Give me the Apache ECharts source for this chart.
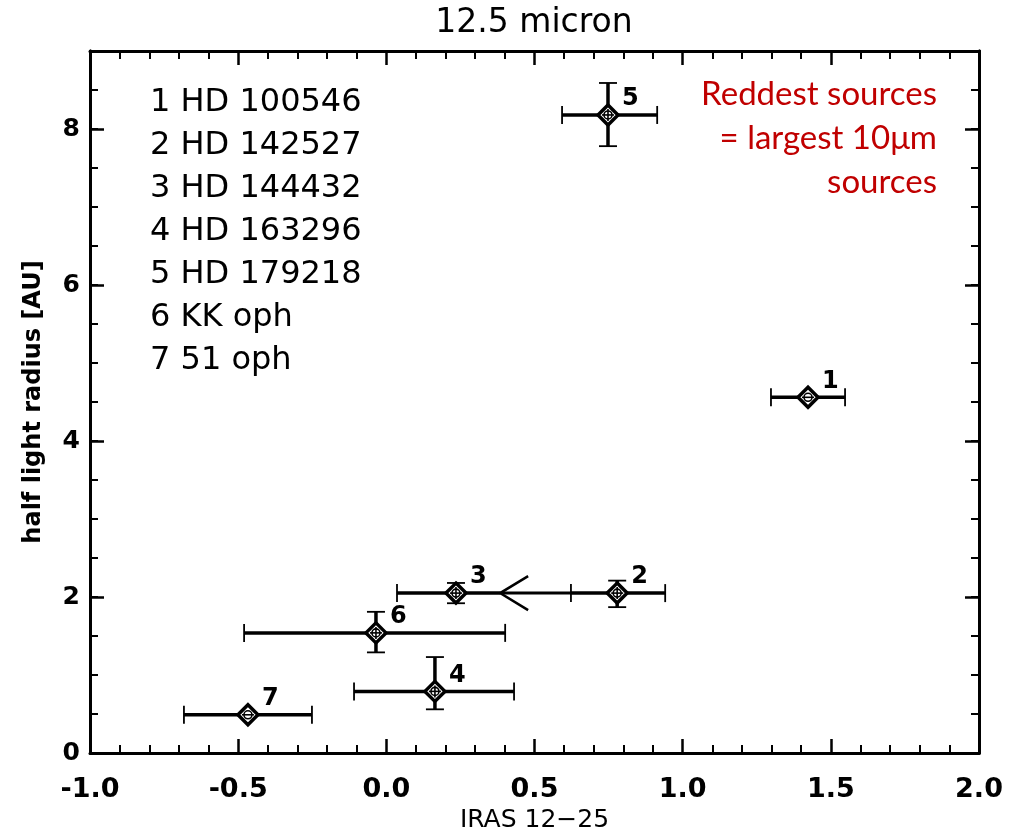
<!DOCTYPE html>
<html><head><meta charset="utf-8">
<script src="https://cdn.jsdelivr.net/npm/echarts@6/dist/echarts.min.js"></script>
<style>html,body{margin:0;padding:0;background:#fff}#c{width:1017px;height:831px}</style>
</head><body><div id="c"></div>
<script>
// ---- data ----
const sourceIds   = ['1','2','3','4','5','6','7'];
const sourceNames = ['HD 100546','HD 142527','HD 144432','HD 163296','HD 179218','KK oph','51 oph'];
const xVals  = [1.423, 0.779, 0.235, 0.164, 0.748, -0.035, -0.467];
const yVals  = [4.56, 2.05, 2.05, 0.79, 8.18, 1.54, 0.49];
const xLow   = [1.298, 0.623, 0.036, -0.109, 0.593, -0.480, -0.683];
const xHigh  = [1.548, 0.941, 0.384, 0.431, 0.914, 0.401, -0.251];
const yLow   = [null, 1.87, 1.92, 0.56, 7.78, 1.29, null];
const yHigh  = [null, 2.21, 2.18, 1.23, 8.59, 1.81, null];
// limit arrow for source 3 (tip x, tip y, line end x)
const limitTipX = [0.384];
const limitY    = [2.05];
const limitEndX = [0.623];
const xTickLabels = ['-1.0','-0.5','0.0','0.5','1.0','1.5','2.0'];
const yTickLabels = ['0','2','4','6','8'];
const titleText = '12.5 micron';
const xName = 'IRAS 12\u221225';
const yName = 'half light radius [AU]';
const noteLines = ['Reddest sources', '= largest 10\u03bcm', 'sources'];

const chart = echarts.init(document.getElementById('c'), null, {renderer:'canvas'});
const FONT = 'DejaVu Sans';

function xAx(pos, withLabels){
  return {
    type:'value', min:-1, max:2, interval:0.5, position:pos, gridIndex:0,
    axisLine:{show:true, onZero:false, lineStyle:{color:'#000', width:3}},
    axisTick:{show:true, inside:true, length:14, lineStyle:{color:'#000', width:2.5}},
    minorTick:{show:true, splitNumber:5, length:8, lineStyle:{color:'#000', width:2}},
    splitLine:{show:false}, minorSplitLine:{show:false},
    axisLabel: withLabels ? {show:true, margin:23, color:'#000', fontFamily:FONT, fontWeight:'bold', fontSize:27,
      formatter:(v,i)=> xTickLabels[i] ?? ''} : {show:false},
    name: withLabels ? xName : '', nameLocation:'middle', nameGap:48,
    nameTextStyle:{color:'#000', fontFamily:FONT, fontSize:25}
  };
}
function yAx(pos, interval, tickLen, withLabels){
  return {
    type:'value', min:0, max:9, interval:interval, position:pos, gridIndex:0,
    axisLine:{show:true, onZero:false, lineStyle:{color:'#000', width:3}},
    axisTick:{show:true, inside:true, length:tickLen, lineStyle:{color:'#000', width: tickLen>10?2.5:2}},
    splitLine:{show:false},
    axisLabel: withLabels ? {show:true, margin:10, color:'#000', fontFamily:FONT, fontWeight:'bold', fontSize:25,
      showMaxLabel:false, formatter:(v,i)=> yTickLabels[i] ?? ''} : {show:false},
    name: withLabels ? yName : '', nameLocation:'middle', nameGap:44, nameRotate:90,
    nameTextStyle:{color:'#000', fontFamily:FONT, fontWeight:'bold', fontSize:24}
  };
}

const pts = xVals.map((x,i)=>[x, yVals[i], i]);

function renderPoint(params, api){
  const i = api.value(2);
  const c = api.coord([xVals[i], yVals[i]]);
  const lo = api.coord([xLow[i], yVals[i]]);
  const hi = api.coord([xHigh[i], yVals[i]]);
  const black = '#000';
  const ch = [];
  const L = (x1,y1,x2,y2,w)=>({type:'line', shape:{x1,y1,x2,y2}, style:{stroke:black, lineWidth:w}});
  ch.push(L(lo[0],lo[1],hi[0],hi[1],3.5));
  ch.push(L(lo[0],lo[1]-9,lo[0],lo[1]+9,1.8));
  if (i !== 2) ch.push(L(hi[0],hi[1]-9,hi[0],hi[1]+9,1.8));
  const hasY = yLow[i] !== null;
  if (hasY){
    const yl = api.coord([xVals[i], yLow[i]]);
    const yh = api.coord([xVals[i], yHigh[i]]);
    ch.push(L(yl[0],yl[1],yh[0],yh[1],3.5));
    ch.push(L(yl[0]-9,yl[1],yl[0]+9,yl[1],1.8));
    ch.push(L(yh[0]-9,yh[1],yh[0]+9,yh[1],1.8));
  }
  const r = 10;
  ch.push({type:'polygon', shape:{points:[[c[0],c[1]-r],[c[0]+r,c[1]],[c[0],c[1]+r],[c[0]-r,c[1]]]},
    style:{fill:'#fff', stroke:black, lineWidth:3.5}});
  ch.push({type:'circle', shape:{cx:c[0], cy:c[1], r:4}, style:{fill:'none', stroke:black, lineWidth:1.6}});
  ch.push(L(c[0]-6,c[1],c[0]+6,c[1],1.6));
  if (hasY) ch.push(L(c[0],c[1]-6,c[0],c[1]+6,1.6));
  ch.push({type:'text', x:c[0]+14, y:c[1]-4, style:{text:sourceIds[i], fill:black, font:'bold 24px "DejaVu Sans"', textAlign:'left', textVerticalAlign:'bottom'}});
  return {type:'group', children:ch};
}

function renderLimit(params, api){
  const i = params.dataIndex;
  const t = api.coord([limitTipX[i], limitY[i]]);
  const e = api.coord([limitEndX[i], limitY[i]]);
  return {type:'group', children:[
    {type:'line', shape:{x1:t[0], y1:t[1], x2:e[0], y2:e[1]}, style:{stroke:'#000', lineWidth:3}},
    {type:'polyline', shape:{points:[[t[0]+28,t[1]-17],[t[0],t[1]],[t[0]+28,t[1]+17]]}, style:{stroke:'#000', lineWidth:2.5, fill:'none'}}
  ]};
}

const legendText = sourceIds.map((id,i)=> id + ' ' + sourceNames[i]).join('\n');

chart.setOption({
  animation:false,
  backgroundColor:'#fff',
  grid:{left:90, right:38, top:51, bottom:78, containLabel:false, outerBoundsMode:'none'},
  xAxis:[xAx('bottom', true), xAx('top', false)],
  yAxis:[yAx('left',2,14,true), yAx('left',0.5,8,false), yAx('right',2,14,false), yAx('right',0.5,8,false)],
  graphic:[
    {type:'text', x:534, y:7, style:{text:titleText, fill:'#000', font:'33px "DejaVu Sans"', textAlign:'center'}},
    {type:'text', x:150, y:81, style:{text:legendText, fill:'#000', font:'32px "DejaVu Sans"', lineHeight:43, textAlign:'left'}},
    {type:'text', x:937, y:72, style:{text:noteLines.join('\n'), fill:'#c00000', font:'33px Lato', lineHeight:44, textAlign:'right'}}
  ],
  series:[
    {type:'custom', xAxisIndex:0, yAxisIndex:0, data:limitTipX.map((x,i)=>[x, limitY[i]]), renderItem:renderLimit, clip:false, silent:true},
    {type:'custom', xAxisIndex:0, yAxisIndex:0, data:pts, renderItem:renderPoint, clip:false, silent:true}
  ]
});
</script></body></html>
